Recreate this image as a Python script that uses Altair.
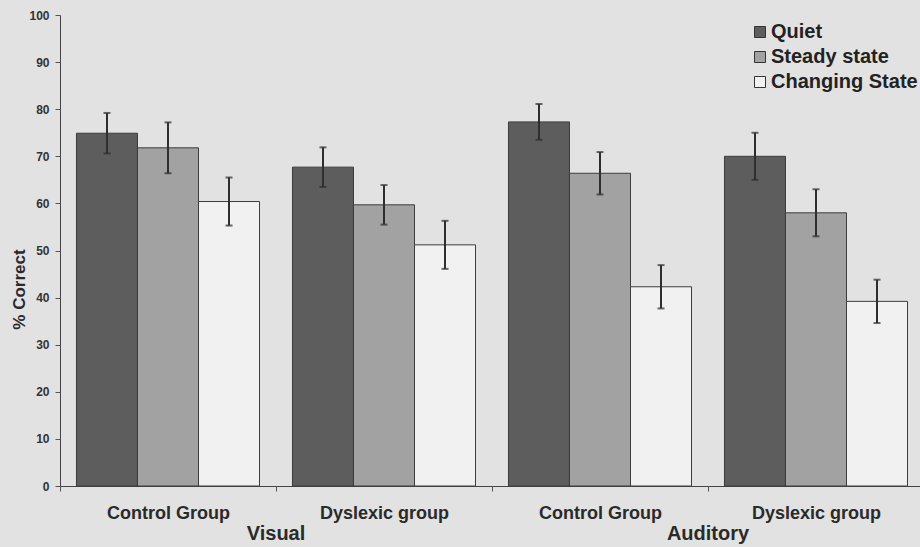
import altair as alt
import pandas as pd

# Mean % correct and error-bar half widths per condition
modality = ["Visual", "Visual", "Auditory", "Auditory"]
group = ["Control Group", "Dyslexic group", "Control Group", "Dyslexic group"]
series = ["Quiet", "Steady state", "Changing State"]

quiet = [74.9, 67.7, 77.3, 70.0]
steady = [71.8, 59.7, 66.4, 58.0]
changing = [60.4, 51.2, 42.3, 39.2]

quiet_err = [4.3, 4.2, 3.8, 5.0]
steady_err = [5.4, 4.2, 4.5, 5.0]
changing_err = [5.1, 5.1, 4.6, 4.6]

colors = ["#5d5d5d", "#a2a2a2", "#f1f1f1"]
font = "Liberation Sans"

keys = [f"{m}|{g}" for m, g in zip(modality, group)]
rows = []
for name, vals, errs in zip(series, [quiet, steady, changing],
                            [quiet_err, steady_err, changing_err]):
    for k, v, e in zip(keys, vals, errs):
        rows.append({"key": k, "series": name, "value": v,
                     "lo": v - e, "hi": v + e})
df = pd.DataFrame(rows)

x_enc = alt.X(
    "key:N", sort=keys, title=None,
    scale=alt.Scale(paddingInner=0, paddingOuter=0, range=[0, 864]),
    axis=alt.Axis(
        labelExpr="split(datum.label, '|')[1]",
        labelAngle=0, labelFont=font, labelFontWeight="bold",
        labelFontSize=18, labelColor="#2a2a2a", labelBaseline="alphabetic",
        labelPadding=27, tickBand="extent", tickSize=5, tickColor="#555",
        domainColor="#444", grid=False, labelFlush=False,
    ),
)
xoff = alt.XOffset("series:N", sort=series,
                   scale=alt.Scale(paddingInner=0, paddingOuter=0.27))
y_enc = alt.Y(
    "value:Q", title="% Correct",
    scale=alt.Scale(domain=[0, 100], nice=False),
    axis=alt.Axis(
        values=list(range(0, 101, 10)), grid=False,
        labelFont=font, labelFontWeight="bold", labelFontSize=12,
        labelColor="#333", labelPadding=6, tickSize=5, tickColor="#555",
        domainColor="#444",
        titleFont=font, titleFontWeight="bold", titleFontSize=17,
        titleColor="#2a2a2a", titleAngle=270, titleAlign="center",
        titleBaseline="middle", titleX=-41, titleY=274,
    ),
)

base = alt.Chart(df)

bars = base.mark_bar(stroke="#3c3c3c", strokeWidth=1).encode(
    x=x_enc,
    xOffset=xoff,
    y=y_enc,
    color=alt.Color(
        "series:N", sort=series,
        scale=alt.Scale(domain=series, range=colors),
        legend=alt.Legend(
            title=None, orient="none", legendX=690, legendY=7,
            symbolType="square", symbolSize=121, symbolStrokeColor="#333",
            symbolStrokeWidth=1, labelFont=font, labelFontWeight="bold",
            labelFontSize=20, labelColor="#222", labelOffset=1,
            rowPadding=5, padding=0, labelLimit=400,
        ),
    ),
)

err = base.mark_rule(color="#2e2e2e", strokeWidth=2).encode(
    x=alt.X("key:N", sort=keys),
    xOffset=alt.XOffset("series:N", sort=series),
    y="lo:Q",
    y2="hi:Q",
)
caps_hi = base.mark_tick(color="#2e2e2e", thickness=2, size=7).encode(
    x=alt.X("key:N", sort=keys),
    xOffset=alt.XOffset("series:N", sort=series),
    y="hi:Q",
)
caps_lo = base.mark_tick(color="#2e2e2e", thickness=2, size=7).encode(
    x=alt.X("key:N", sort=keys),
    xOffset=alt.XOffset("series:N", sort=series),
    y="lo:Q",
)

mod_df = pd.DataFrame({"key": [keys[1], keys[3]], "name": ["Visual", "Auditory"]})
mods = alt.Chart(mod_df).mark_text(
    font=font, fontWeight="bold", fontSize=20, color="#2a2a2a",
    baseline="alphabetic", align="center",
).encode(
    x=alt.X("key:N", sort=keys, bandPosition=0),
    y=alt.value(525),
    text="name:N",
)

chart = (
    alt.layer(bars, err, caps_hi, caps_lo, mods)
    .properties(
        width=860, height=471,
        background="#e2e2e2",
        autosize=alt.AutoSizeParams(type="none"),
        padding={"left": 60, "top": 15, "right": 0, "bottom": 61},
    )
    .configure_view(stroke=None)
)

chart.save("out.html", embed_options={"renderer": "svg", "actions": False})
